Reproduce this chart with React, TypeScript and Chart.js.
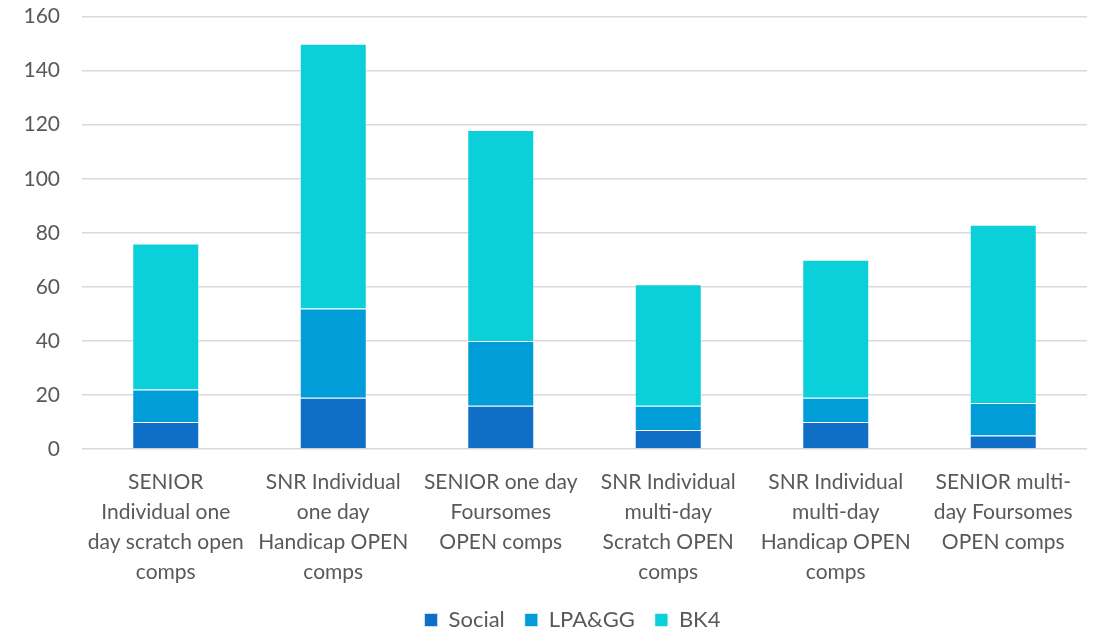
import React, { useEffect, useRef } from "react";
import { Chart, registerables } from "chart.js";

Chart.register(...registerables);

const categories: string[][] = [
  ["SENIOR", "Individual one", "day scratch open", "comps"],
  ["SNR Individual", "one day", "Handicap OPEN", "comps"],
  ["SENIOR one day", "Foursomes", "OPEN comps"],
  ["SNR Individual", "multi-day", "Scratch OPEN", "comps"],
  ["SNR Individual", "multi-day", "Handicap OPEN", "comps"],
  ["SENIOR multi-", "day Foursomes", "OPEN comps"],
];

const socialValues = [10, 19, 16, 7, 10, 5];
const lpaValues = [12, 33, 24, 9, 9, 12];
const bk4Values = [54, 98, 78, 45, 51, 66];

const seriesNames = ["Social", "LPA&GG", "BK4"];
const seriesColors = ["#0F6FC6", "#009DD9", "#0BD0D9"];

const FONT = "Lato, 'Open Sans', sans-serif";
const TEXT = "#595959";

const CANVAS_W = 1101;
const CANVAS_H = 659;
const OFFSET_TOP = -18;
const LEGEND_SHIFT = 29;

const legendShift = {
  id: "legendShift",
  afterLayout(chart: any) {
    if (chart.legend) {
      chart.legend.left += LEGEND_SHIFT;
      chart.legend.right += LEGEND_SHIFT;
    }
  },
};

export default function App() {
  const ref = useRef<HTMLCanvasElement | null>(null);

  useEffect(() => {
    if (!ref.current) return;
    const values = [socialValues, lpaValues, bk4Values];
    const chart = new Chart(ref.current, {
      type: "bar",
      data: {
        labels: categories,
        datasets: values.map((v, i) => ({
          label: seriesNames[i],
          data: v,
          backgroundColor: seriesColors[i],
          borderColor: "rgba(255,255,255,0.55)",
          borderWidth: 1,
          categoryPercentage: 1,
          barPercentage: 0.4,
        })),
      },
      plugins: [legendShift],
      options: {
        responsive: false,
        animation: false,
        layout: { padding: { top: 0, right: 14, left: 0, bottom: 0 } },
        plugins: {
          tooltip: { enabled: false },
          legend: {
            position: "bottom",
            labels: {
              boxWidth: 13,
              boxHeight: 13,
              padding: 20,
              color: TEXT,
              font: { family: FONT, size: 22 },
            },
          },
        },
        scales: {
          x: {
            stacked: true,
            grid: { display: false },
            border: { display: false },
            ticks: {
              color: TEXT,
              font: { family: FONT, size: 21, lineHeight: 1.43 },
              maxRotation: 0,
              autoSkip: false,
              padding: 10,
            },
            afterFit: (s: any) => {
              s.height = 140;
            },
          },
          y: {
            stacked: true,
            min: 0,
            max: 160,
            grid: { color: "#D9D9D9", lineWidth: 1.5, drawTicks: false },
            border: { display: false },
            ticks: {
              stepSize: 20,
              color: TEXT,
              font: { family: FONT, size: 21 },
              padding: 22,
            },
            afterFit: (s: any) => {
              s.width = 82;
            },
          },
        },
      },
    });
    return () => chart.destroy();
  }, []);

  return (
    <div style={{ position: "fixed", left: 0, top: 0, width: 1101, height: 631, overflow: "hidden", background: "#fff" }}>
      <canvas
        ref={ref}
        width={CANVAS_W}
        height={CANVAS_H}
        style={{ position: "absolute", left: 0, top: OFFSET_TOP }}
      />
    </div>
  );
}
